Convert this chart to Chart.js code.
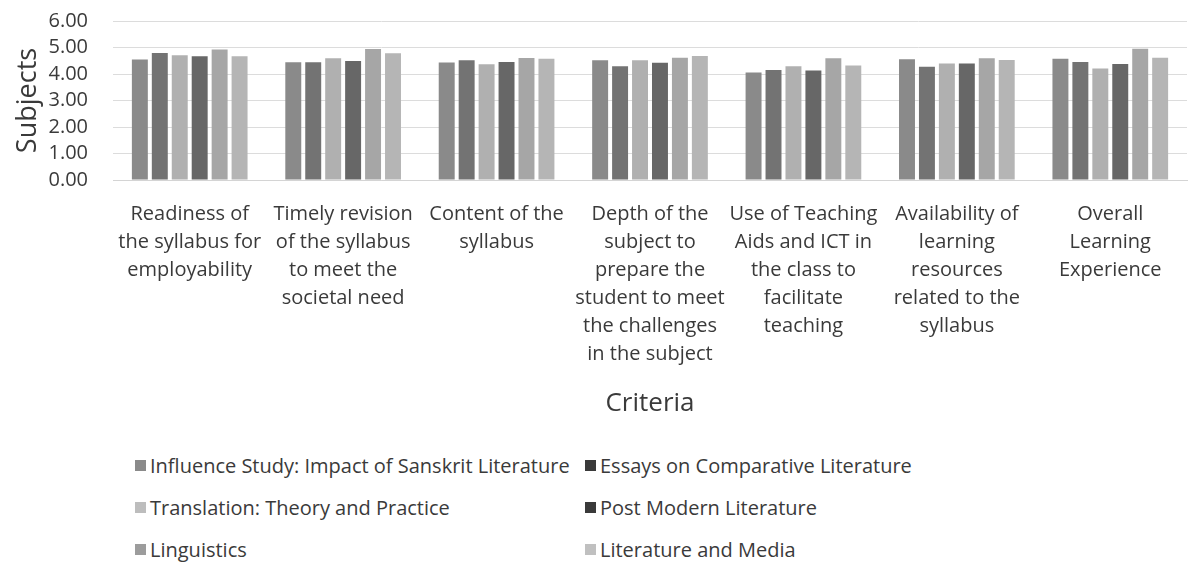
<!DOCTYPE html>
<html>
<head>
<meta charset="utf-8">
<script src="https://cdn.jsdelivr.net/npm/chart.js@4/dist/chart.umd.min.js"></script>
<style>
  html, body { margin: 0; padding: 0; background: #fff; }
  body { width: 1192px; height: 574px; position: relative; overflow: hidden; font-family: "Open Sans", sans-serif; }
  #wrap { position: absolute; left: 0; top: -16px; width: 1192px; height: 446px; }
  #legend {
    position: absolute; left: 135px; top: 444px;
    display: grid; grid-template-columns: 450px auto; grid-auto-rows: 42px;
    font-size: 20px; color: #3a3a3a;
  }
  #legend .item { display: flex; align-items: center; white-space: nowrap; }
  #legend .box { width: 11px; height: 11px; margin-right: 4px; flex: none; }
</style>
</head>
<body>
<div id="wrap"><canvas id="barChart"></canvas></div>
<div id="legend"></div>
<script>
// categories (x axis), one label line per array entry
const categories = [
  ['Readiness of', 'the syllabus for', 'employability'],
  ['Timely revision', 'of the syllabus', 'to meet the', 'societal need'],
  ['Content of the', 'syllabus'],
  ['Depth of the', 'subject to', 'prepare the', 'student to meet', 'the challenges', 'in the subject'],
  ['Use of Teaching', 'Aids and ICT in', 'the class to', 'facilitate', 'teaching'],
  ['Availability of', 'learning', 'resources', 'related to the', 'syllabus'],
  ['Overall', 'Learning', 'Experience']
];

// series names
const seriesNames = [
  'Influence Study: Impact of Sanskrit Literature',
  'Essays on Comparative Literature',
  'Translation: Theory and Practice',
  'Post Modern Literature',
  'Linguistics',
  'Literature and Media'
];

// values (per series, one per category)
const influenceStudy   = [4.55, 4.44, 4.43, 4.52, 4.06, 4.56, 4.58];
const essaysCompLit    = [4.79, 4.44, 4.52, 4.29, 4.15, 4.27, 4.45];
const translation      = [4.71, 4.59, 4.37, 4.52, 4.29, 4.40, 4.21];
const postModern       = [4.67, 4.49, 4.45, 4.42, 4.13, 4.40, 4.38];
const linguistics      = [4.92, 4.94, 4.60, 4.61, 4.59, 4.59, 4.95];
const literatureMedia  = [4.67, 4.78, 4.58, 4.68, 4.32, 4.53, 4.61];

// y axis ticks
const yTicks = [0, 1, 2, 3, 4, 5, 6];

const seriesValues = [influenceStudy, essaysCompLit, translation, postModern, linguistics, literatureMedia];
const barColors = ['#8a8a8a', '#737373', '#b0b0b0', '#676767', '#a6a6a6', '#b5b5b5'];
const legendColors = ['#8a8a8a', '#3a3a3a', '#bdbdbd', '#3a3a3a', '#9c9c9c', '#c0c0c0'];

const textColor = '#3a3a3a';
const fontFamily = '"Open Sans", sans-serif';

const datasets = seriesNames.map((name, i) => ({
  label: name,
  data: seriesValues[i],
  backgroundColor: barColors[i],
  borderWidth: 0,
  categoryPercentage: 0.78,
  barPercentage: 0.8
}));

const chart = new Chart(document.getElementById('barChart'), {
  type: 'bar',
  data: { labels: categories, datasets: datasets },
  options: {
    responsive: true,
    maintainAspectRatio: false,
    animation: false,
    layout: { padding: { top: 8, right: 5, left: 0, bottom: 0 } },
    plugins: {
      legend: { display: false },
      tooltip: { enabled: false }
    },
    scales: {
      x: {
        // the x labels are tall, so fix the axis height
        afterFit: (scale) => { scale.height = 250; },
        grid: { display: false, drawTicks: false },
        border: { color: '#d4d4d4' },
        ticks: {
          color: textColor,
          padding: 20,
          maxRotation: 0,
          autoSkip: false,
          font: { family: fontFamily, size: 20, lineHeight: 1.4 }
        },
        title: {
          display: true,
          text: 'Criteria',
          color: textColor,
          padding: { top: 10, bottom: 11 },
          font: { family: fontFamily, size: 26 }
        }
      },
      y: {
        min: yTicks[0],
        max: yTicks[yTicks.length - 1],
        afterBuildTicks: (scale) => { scale.ticks = yTicks.map(v => ({ value: v })); },
        afterFit: (scale) => { scale.width = 113; },
        grid: { color: '#dcdcdc', drawTicks: false },
        border: { display: false },
        ticks: {
          color: textColor,
          padding: 25,
          autoSkip: false,
          font: { family: fontFamily, size: 20 },
          callback: (v) => Number(v).toFixed(2)
        },
        title: {
          display: true,
          text: 'Subjects',
          color: textColor,
          padding: { top: 12, bottom: 0 },
          font: { family: fontFamily, size: 27 }
        }
      }
    }
  }
});

// HTML legend in two columns, like the original
const legendEl = document.getElementById('legend');
chart.data.datasets.forEach((ds, i) => {
  const item = document.createElement('div');
  item.className = 'item';
  const box = document.createElement('span');
  box.className = 'box';
  box.style.background = legendColors[i];
  const txt = document.createElement('span');
  txt.textContent = ds.label;
  item.appendChild(box);
  item.appendChild(txt);
  legendEl.appendChild(item);
});
</script>
</body>
</html>
